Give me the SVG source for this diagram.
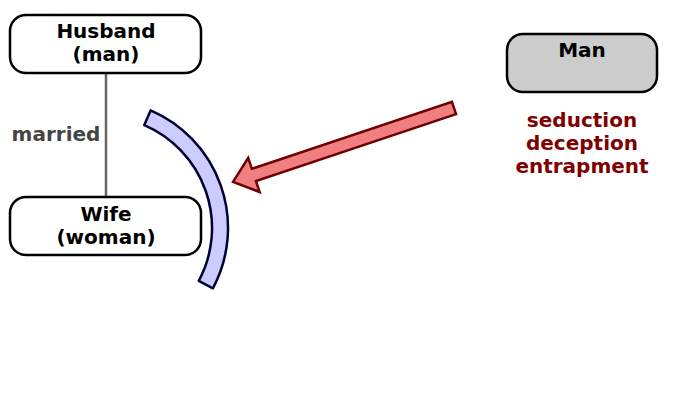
<svg xmlns="http://www.w3.org/2000/svg" width="688" height="412" viewBox="0 0 688 412">
<style>
.node rect{stroke:#000;stroke-width:2.5}
text{font-family:"DejaVu Sans","Liberation Sans",sans-serif;font-weight:bold;font-size:20px;text-anchor:middle}
.lbl{fill:#000}
</style>
<rect width="688" height="412" fill="#fff"/>
<g id="connectors">
<line x1="106" y1="73" x2="106" y2="197" stroke="#666" stroke-width="2.5"/>
<text x="56" y="141" fill="#444">married</text>
<path id="shield" d="M150.6,110.4 A128,128 0 0 1 212.9,288.3 L198.8,280.8 A112,112 0 0 0 144.3,125.1 Z" fill="#ccccff" stroke="#000033" stroke-width="2.5" stroke-linejoin="round"/>
<polygon id="attack" transform="translate(454,108) rotate(161.5)" points="0,-6.5 211,-6.5 211,-18 233,0 211,18 211,6.5 0,6.5" fill="#f08080" stroke="#700000" stroke-width="2.5" stroke-linejoin="miter"/>
</g>
<g id="husband" class="node">
<rect x="10" y="15" width="191" height="58" rx="16" fill="#fff"/>
<text x="106" y="38" class="lbl">Husband</text>
<text x="106" y="61" class="lbl">(man)</text>
</g>
<g id="wife" class="node">
<rect x="10" y="197" width="191" height="58" rx="16" fill="#fff"/>
<text x="106" y="221" class="lbl">Wife</text>
<text x="106" y="244" class="lbl">(woman)</text>
</g>
<g id="man" class="node">
<rect x="507" y="34" width="150" height="58" rx="16" fill="#ccc"/>
<text x="582" y="57" class="lbl">Man</text>
</g>
<g id="tactics" fill="#800000">
<text x="582" y="127">seduction</text>
<text x="582" y="150">deception</text>
<text x="582" y="173">entrapment</text>
</g>
</svg>
